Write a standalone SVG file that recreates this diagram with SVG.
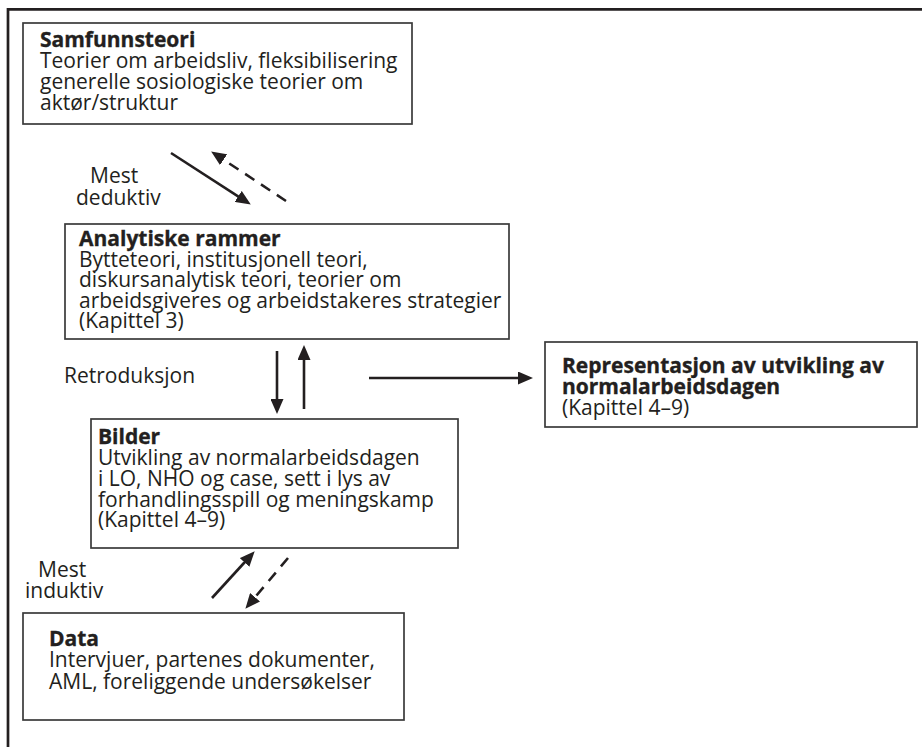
<svg xmlns="http://www.w3.org/2000/svg" width="922" height="747" viewBox="0 0 922 747">
  <style>
    .box { fill: #ffffff; stroke: #3a3a3a; stroke-width: 1.7; }
    .t { font-family: "Open Sans", "Noto Sans", "DejaVu Sans", sans-serif; font-size: 21px; fill: #231f20; }
    .h { font-family: "Open Sans", "Noto Sans", "DejaVu Sans", sans-serif; font-size: 21px; font-weight: 700; fill: #231f20; stroke: #231f20; stroke-width: 0.35; }
    .edge { fill: none; stroke: #231f20; stroke-width: 2.6; }
    .dash { stroke-dasharray: 11 8; }
  </style>
  <defs>
    <marker id="head" markerUnits="userSpaceOnUse" markerWidth="15" markerHeight="13" viewBox="0 0 15 13" refX="10" refY="6.5" orient="auto">
      <path d="M0,0 L15,6.5 L0,13 z" fill="#231f20"/>
    </marker>
  </defs>

  <rect width="922" height="747" fill="#ffffff"/>

  <!-- outer frame -->
  <path d="M8,747 V9.3 H922" fill="none" stroke="#231f20" stroke-width="2.7"/>

  <g id="samfunnsteori">
    <rect class="box" x="23" y="23" width="389" height="101"/>
    <text class="h" x="40" y="47">Samfunnsteori</text>
    <text class="t" x="40" y="68">Teorier om arbeidsliv, fleksibilisering</text>
    <text class="t" x="40" y="89">generelle sosiologiske teorier om</text>
    <text class="t" x="40" y="110">aktør/struktur</text>
  </g>

  <g id="analytiske-rammer">
    <rect class="box" x="65" y="224" width="444" height="115"/>
    <text class="h" x="79" y="246">Analytiske rammer</text>
    <text class="t" x="79" y="266.5">Bytteteori, institusjonell teori,</text>
    <text class="t" x="79" y="287">diskursanalytisk teori, teorier om</text>
    <text class="t" x="79" y="307.5">arbeidsgiveres og arbeidstakeres strategier</text>
    <text class="t" x="79" y="328">(Kapittel 3)</text>
  </g>

  <g id="representasjon">
    <rect class="box" x="545" y="342" width="372" height="85"/>
    <text class="h" x="562" y="373">Representasjon av utvikling av</text>
    <text class="h" x="562" y="394">normalarbeidsdagen</text>
    <text class="t" x="562" y="415">(Kapittel 4–9)</text>
  </g>

  <g id="bilder">
    <rect class="box" x="91" y="419" width="367" height="129"/>
    <text class="h" x="98" y="444">Bilder</text>
    <text class="t" x="98" y="465">Utvikling av normalarbeidsdagen</text>
    <text class="t" x="98" y="486">i LO, NHO og case, sett i lys av</text>
    <text class="t" x="98" y="507">forhandlingsspill og meningskamp</text>
    <text class="t" x="98" y="527">(Kapittel 4–9)</text>
  </g>

  <g id="data">
    <rect class="box" x="23" y="613" width="381" height="107"/>
    <text class="h" x="49" y="646">Data</text>
    <text class="t" x="49" y="667">Intervjuer, partenes dokumenter,</text>
    <text class="t" x="49" y="689">AML, foreliggende undersøkelser</text>
  </g>

  <g id="labels">
    <text class="t" x="90" y="183">Mest</text>
    <text class="t" x="76" y="205">deduktiv</text>
    <text class="t" x="64" y="383">Retroduksjon</text>
    <text class="t" x="38" y="577">Mest</text>
    <text class="t" x="25" y="598">induktiv</text>
  </g>

  <g id="connectors">
    <path class="edge" d="M171,153 L246.6,201.8" marker-end="url(#head)"/>
    <path class="edge dash" d="M286,201 L215.3,154.2" marker-end="url(#head)"/>
    <path class="edge" d="M277,351 L277,409" marker-end="url(#head)"/>
    <path class="edge" d="M304,409 L304,350" marker-end="url(#head)"/>
    <path class="edge" d="M369,378 L528,378" marker-end="url(#head)"/>
    <path class="edge" d="M212,598 L251.3,555" marker-end="url(#head)"/>
    <path class="edge dash" d="M288,558 L248.6,604.9" marker-end="url(#head)"/>
  </g>
</svg>
